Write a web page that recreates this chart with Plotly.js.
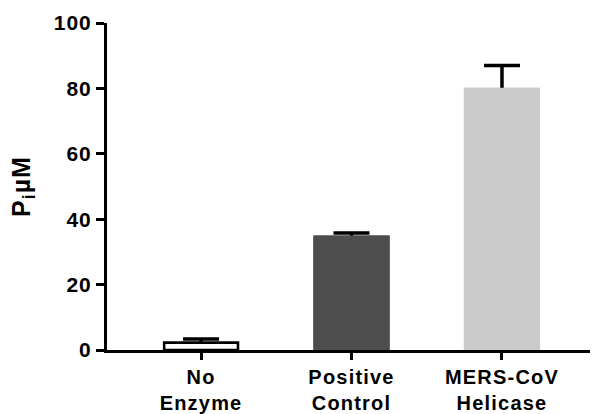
<!DOCTYPE html>
<html>
<head>
<meta charset="utf-8">
<script src="https://cdn.plot.ly/plotly-3.0.1.min.js"></script>
<style>
html,body{margin:0;padding:0;background:#fff}
#chart .xtick text{letter-spacing:1.2px}
#chart .ytick text{letter-spacing:1px}
#chart .ytitle{letter-spacing:1px}
</style>
</head>
<body>
<div id="chart" style="width:592px;height:414px"></div>
<script>
const categories = ["No<br>Enzyme", "Positive<br>Control", "MERS-CoV<br>Helicase"];
const values = [2.2, 34.6, 79.8];
const errors = [1.2, 1.2, 7.2];
const fillColors = ["#ffffff", "#4d4d4d", "#cbcbcb"];
const outlineColors = ["#000000", "#4d4d4d", "#cbcbcb"];
const yTicks = [0, 20, 40, 60, 80, 100];

const font = "'Liberation Sans', Arial, sans-serif";
const xpos = categories.map((c, i) => i);

// First bar trace carries symmetric error bars; second identical bar trace
// is drawn over it so only the upper half of each error bar stays visible.
const errTrace = {
  type: "bar",
  x: xpos,
  y: values,
  width: 0.49,
  marker: {color: fillColors, line: {color: outlineColors, width: 2.5}},
  error_y: {type: "data", array: errors, color: "#000000", thickness: 3.5, width: 18},
  hoverinfo: "none"
};
const barTrace = {
  type: "bar",
  x: xpos,
  y: values,
  width: 0.49,
  marker: {color: fillColors, line: {color: outlineColors, width: 2.5}},
  hoverinfo: "none"
};

const layout = {
  width: 592, height: 414,
  margin: {l: 107, r: 2, t: 23, b: 64},
  paper_bgcolor: "#ffffff", plot_bgcolor: "#ffffff",
  showlegend: false,
  barmode: "overlay",
  font: {family: font, color: "#000000"},
  xaxis: {
    range: [-0.625, 2.585],
    tickmode: "array", tickvals: xpos, ticktext: categories,
    showline: true, linecolor: "#000000", linewidth: 3,
    ticks: "outside", ticklen: 7, tickwidth: 3, tickcolor: "#000000",
    showgrid: false, zeroline: false,
    tickfont: {family: font, size: 20, weight: "bold", color: "#000000"}
  },
  yaxis: {
    range: [0, 100],
    tickmode: "array", tickvals: yTicks, ticktext: yTicks.map(String),
    showline: true, linecolor: "#000000", linewidth: 3,
    ticks: "outside", ticklen: 8, tickwidth: 3, tickcolor: "#000000",
    showgrid: false, zeroline: false,
    tickfont: {family: font, size: 21, weight: "bold", color: "#000000"},
    title: {text: "P<sub>i</sub>\u00b5M", font: {family: font, size: 25, weight: "bold", color: "#000000"}, standoff: 20}
  }
};

Plotly.newPlot("chart", [errTrace, barTrace], layout, {staticPlot: true, displayModeBar: false});
</script>
</body>
</html>
